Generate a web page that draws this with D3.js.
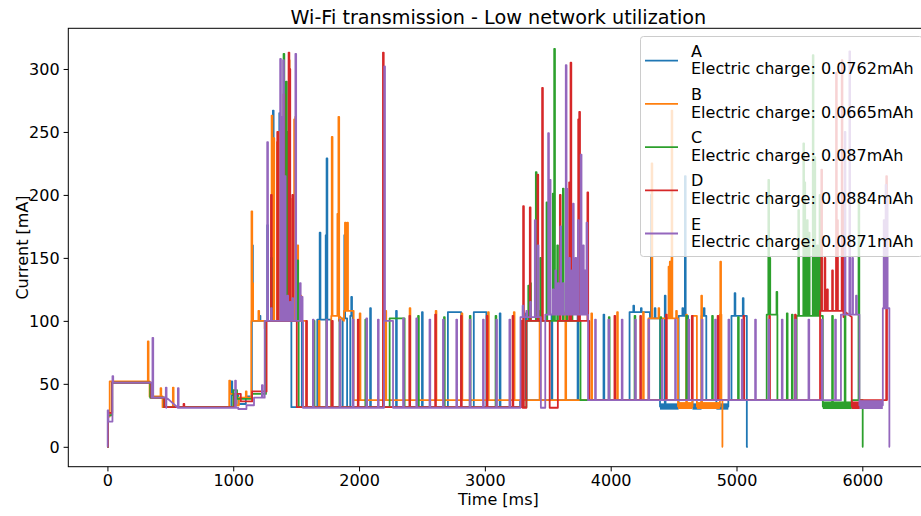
<!DOCTYPE html>
<html><head><meta charset="utf-8">
<script src="https://cdn.jsdelivr.net/npm/d3@7/dist/d3.min.js"></script>
<style>
body{margin:0;background:#fff}
svg{display:block}
text{font-family:"DejaVu Sans",sans-serif;fill:#000}
</style>
</head><body>
<svg id="chart" width="921" height="516"></svg>
<script>
// ---------------- DATA ----------------
const seriesNames = ["A", "B", "C", "D", "E"];
const charges = ["0.0762", "0.0665", "0.087", "0.0884", "0.0871"];
const xTicks = [0, 1000, 2000, 3000, 4000, 5000, 6000];
const yTicks = [0, 50, 100, 150, 200, 250, 300];

// step levels [time ms, current mA]
const aLevels = [[0,0],[4,26],[36,51],[345,39],[455,31.5],[985,52],[992,41],[1040,34],[1100,40],[1148,100],[1462,31.5],[1668,101],[1778,31.5],[1870,102],[1905,31.5],[1930,104],[1950,31.5],[2706,107],[2812,31.5],[2912,107],[3012,31.5],[3280,37],[4150,107],[4312,102],[4392,32],[4540,104],[4615,37],[4650,32],[4722,104],[4760,37],[4840,32],[4935,37],[4960,104],[5082,0],[5090,0]];
const bLevels = [[0,0],[4,24],[18,52],[335,40],[438,31.5],[968,52.6],[975,42],[1025,33],[1045,39],[1143,100],[1580,31.5],[1779,104],[1840,100],[1880,108],[1957,37],[4300,102],[4535,32],[4650,104],[4685,32],[4868,105],[4880,37],[4888,0],[4892,0]];
const cLevels = [[0,0],[5,25],[38,51],[340,39],[450,31.5],[1000,45],[1030,38],[1150,42],[1260,100],[1520,31.5],[2243,102],[2362,31.5],[3330,100],[3760,37],[5240,105],[5325,37],[5478,104],[5686,32],[5916,37],[6003,0],[6008,0]];
const dLevels = [[0,0],[4,27],[38,51],[348,39],[452,31.5],[1010,42],[1060,36],[1150,44],[1265,100],[1505,31.5],[3290,100],[3300,31],[3330,100],[3515,31],[3580,100],[3830,37],[5664,108],[5850,103],[5916,32],[5982,37],[6200,37]];
const eLevels = [[0,0],[2,29],[8,20],[40,56],[46,51],[352,39],[468,31],[1040,30],[1105,33],[1165,39],[1250,100],[1554,31],[2198,100],[2270,31],[3283,103],[3445,31],[3480,105],[3820,37],[5830,105],[5977,33],[6163,110],[6215,0],[6219,0]];

// short pulses [time ms, peak mA]
const aSpikes = [[1150,160],[1210,104],[1270,176],[1315,267],[1360,250],[1366,265],[1385,200],[1410,150],[1440,215],[1545,100],[1687,170],[1735,168],[1742,229],[1883,168],[1938,119],[2088,110],[2294,108],[2500,107],[3118,106],[3325,106],[3530,105],[3737,105],[3943,105],[4180,112],[4240,110],[4320,200],[4350,110],[4430,120],[4570,110],[4590,215],[4740,110],[4985,122],[5050,118]];
const bSpikes = [[321,83.6],[422,46.5],[520,47],[1100,44],[1145,187],[1152,130],[1200,108],[1250,94],[1305,263],[1320,245],[1347,242],[1362,250],[1385,200],[1442,307],[1469,197],[1484,260],[1493,262],[1510,160],[1535,120],[1680,100],[1783,246],[1828,185],[1836,262],[1888,178],[1906,178],[2005,106],[2210,108],[2402,110],[2609,108],[2815,106],[3025,107],[3230,107],[3435,108],[3640,107],[3846,106],[4051,107],[4257,107],[4325,225],[4380,110],[4460,143],[4470,147],[4484,267],[4520,108],[4600,105],[4720,120],[4871,147]];
const cSpikes = [[1300,150],[1400,312],[1420,290],[1435,250],[1510,148],[1640,100],[1740,101],[1845,101],[2050,101],[2469,104],[2675,103],[2880,104],[3085,104],[3345,128],[3360,130],[3405,218],[3440,150],[3490,194],[3540,201],[3551,316],[3575,160],[3620,205],[3650,150],[3690,128],[3985,103],[4190,104],[4396,103],[4601,104],[4806,104],[5012,103],[5253,212],[5262,150],[5318,123],[5400,106],[5440,105],[5491,188],[5531,241],[5540,210],[5560,180],[5575,170],[5606,311],[5620,230],[5640,160],[5660,200],[5760,104],[5860,104],[5970,200]];
const dSpikes = [[605,34],[1300,200],[1350,250],[1400,280],[1440,313],[1447,300],[1470,200],[1580,100],[1785,100],[1990,101],[2190,313],[2400,104],[2605,105],[2810,104],[3015,104],[3220,104],[3304,191],[3357,190],[3418,216],[3455,285],[3596,200],[3670,210],[3681,305],[3742,260],[3750,266],[3815,202],[4030,104],[4235,104],[4440,105],[4645,104],[4850,104],[5055,104],[5260,104],[5465,105],[5674,220],[5700,150],[5720,125],[5760,140],[5791,297],[5800,180],[5836,307],[5845,200],[6190,215]];
const eSpikes = [[358,86.5],[464,47],[560,46.5],[1015,52.6],[1228,49],[1270,242],[1300,110],[1373,308],[1388,262],[1397,307],[1410,215],[1430,120],[1450,115],[1470,118],[1494,312],[1530,130],[1545,119],[1633,101],[1740,101],[1846,101],[1950,101],[2058,102],[2150,101],[2200,302],[2350,102],[2455,102],[2560,101],[2667,101],[2773,101],[2879,101],[2985,101],[3090,101],[3195,101],[3300,112],[3330,108],[3360,115],[3397,180],[3420,160],[3503,249],[3516,212],[3540,125],[3560,140],[3580,130],[3600,175],[3620,130],[3643,303],[3650,205],[3670,150],[3690,140],[3700,193],[3720,150],[3740,180],[3762,232],[3780,160],[3795,140],[3808,178],[3876,101],[3982,101],[4088,101],[4194,101],[4300,101],[4406,101],[4512,101],[4618,101],[4724,101],[4830,101],[4936,101],[5042,101],[5148,101],[5254,101],[5360,101],[5466,101],[5572,101],[5678,101],[5784,101],[5860,250],[5897,314],[5920,150],[5950,120],[6170,180],[6185,208],[6195,200]];

// fast-oscillation bands [t start, t end, low mA, high mA]
const aBands = [[4392,4540,29.5,34.5],[4650,4722,29.5,34.5],[4840,4935,29.5,34.5]];
const bBands = [[4535,4650,30,35.5],[4685,4868,30,35.5]];
const cBands = [[5686,5916,30,36]];
const dBands = [[5916,5982,30,36]];
const eBands = [[5977,6163,30,37]];

// ---------------- CHART ----------------
const colors = ["#1f77b4", "#ff7f0e", "#2ca02c", "#d62728", "#9467bd"];
const levelSets = [aLevels, bLevels, cLevels, dLevels, eLevels];
const spikeSets = [aSpikes, bSpikes, cSpikes, dSpikes, eSpikes];
const bandSets = [aBands, bBands, cBands, dBands, eBands];

const L = 68.3, R = 928.5, T = 28.3, B = 466.7;
const x = d3.scaleLinear().domain([-311, 6526]).range([L, R]);
const y = d3.scaleLinear().domain([-15.8, 332.3]).range([B, T]);
const svg = d3.select("#chart");

svg.append("defs").append("clipPath").attr("id", "clip")
  .append("rect").attr("x", L).attr("y", T).attr("width", R - L).attr("height", B - T);

function buildPoints(levels, spikes) {
  const pulse = 6;
  const base = t => { let v = levels[0][1]; for (const [lt, lv] of levels) { if (lt <= t) v = lv; else break; } return v; };
  const ev = [];
  let k = 0;
  levels.forEach((d, i) => {
    if (i > 0) ev.push({t: d[0], v: levels[i - 1][1], k: k++});
    ev.push({t: d[0], v: d[1], k: k++});
  });
  spikes.forEach(s => {
    const b = base(s[0]);
    ev.push({t: s[0], v: b, k: k++}, {t: s[0], v: s[1], k: k++},
            {t: s[0] + pulse, v: s[1], k: k++}, {t: s[0] + pulse, v: b, k: k++});
  });
  ev.sort((p, q) => p.t - q.t || p.k - q.k);
  return ev;
}

const plot = svg.append("g").attr("clip-path", "url(#clip)");
const line = d3.line().x(d => x(d.t)).y(d => y(d.v));
seriesNames.forEach((n, i) => {
  const g = plot.append("g");
  g.append("path").datum(buildPoints(levelSets[i], spikeSets[i]))
    .attr("d", line).attr("fill", "none").attr("stroke", colors[i])
    .attr("stroke-width", 1.8).attr("stroke-linejoin", "round");
  g.selectAll("rect").data(bandSets[i]).join("rect")
    .attr("x", d => x(d[0])).attr("width", d => x(d[1]) - x(d[0]))
    .attr("y", d => y(d[3])).attr("height", d => y(d[2]) - y(d[3]))
    .attr("fill", colors[i]);
});

// axes
const xAxis = d3.axisBottom(x).tickValues(xTicks).tickSize(4.7).tickPadding(3.5).tickFormat(d3.format("d"));
const yAxis = d3.axisLeft(y).tickValues(yTicks).tickSize(4.7).tickPadding(4).tickFormat(d3.format("d"));
const gx = svg.append("g").attr("transform", `translate(0,${B})`).call(xAxis);
const gy = svg.append("g").attr("transform", `translate(${L},0)`).call(yAxis);
[gx, gy].forEach(g => {
  g.select(".domain").remove();
  g.selectAll(".tick line").attr("stroke", "#000").attr("stroke-width", 1);
  g.selectAll(".tick text").attr("font-size", "16px").attr("font-family", "DejaVu Sans").attr("fill", "#000");
});
gy.selectAll(".tick text").attr("dy", "0.34em");
gx.selectAll(".tick text").attr("dy", "0.71em");

svg.append("rect").attr("x", L).attr("y", T).attr("width", R - L).attr("height", B - T)
  .attr("fill", "none").attr("stroke", "#000").attr("stroke-width", 1);

svg.append("text").attr("x", (L + R) / 2).attr("y", 23.5).attr("text-anchor", "middle")
  .attr("font-size", "19.2px").text("Wi-Fi transmission - Low network utilization");
svg.append("text").attr("x", (L + R) / 2).attr("y", 505).attr("text-anchor", "middle")
  .attr("font-size", "16px").text("Time [ms]");
svg.append("text").attr("transform", `translate(27.5,${(T + B) / 2}) rotate(-90)`).attr("text-anchor", "middle")
  .attr("font-size", "16px").text("Current [mA]");

// legend
const lg = svg.append("g");
lg.append("rect").attr("x", 640.5).attr("y", 36.5).attr("width", 282).attr("height", 220).attr("rx", 3)
  .attr("fill", "#fff").attr("fill-opacity", 0.8).attr("stroke", "#ccc").attr("stroke-width", 1);
seriesNames.forEach((n, i) => {
  const oy = 43.2 * i;
  lg.append("line").attr("x1", 645).attr("x2", 678).attr("y1", 60.7 + oy).attr("y2", 60.7 + oy)
    .attr("stroke", colors[i]).attr("stroke-width", 1.8);
  lg.append("text").attr("x", 691).attr("y", 56.7 + oy).attr("font-size", "16px").text(n);
  lg.append("text").attr("x", 691).attr("y", 74.3 + oy).attr("font-size", "16px")
    .text("Electric charge: " + charges[i] + "mAh");
});
</script>
</body></html>
